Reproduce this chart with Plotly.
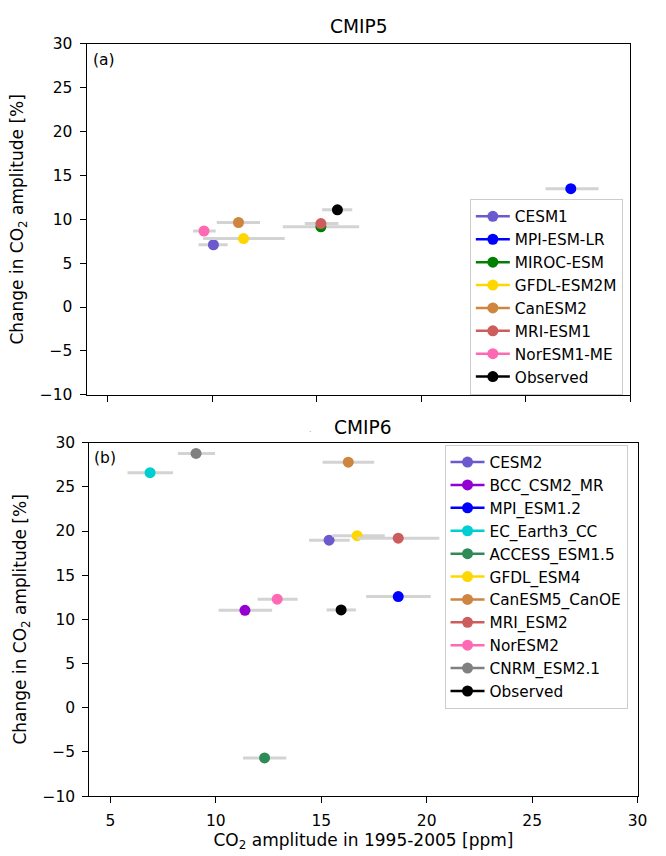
import plotly.graph_objects as go

# ---- data: panel (a) CMIP5 ----
cmip5_models = ["CESM1", "MPI-ESM-LR", "MIROC-ESM", "GFDL-ESM2M", "CanESM2", "MRI-ESM1", "NorESM1-ME", "Observed"]
cmip5_colors = ["#6A5ACD", "#0000FF", "#008000", "#FFD700", "#CD853F", "#CD5C5C", "#FF69B4", "#000000"]
cmip5_x = [10.06, 27.15, 15.2, 11.5, 11.26, 15.2, 9.61, 15.99]
cmip5_y = [7.1, 13.5, 9.15, 7.81, 9.64, 9.52, 8.67, 11.09]
cmip5_xlo = [9.35, 25.94, 13.38, 9.56, 10.22, 14.43, 9.09, 15.26]
cmip5_xhi = [10.74, 28.48, 17.03, 13.47, 12.29, 16.04, 10.17, 16.7]

# ---- data: panel (b) CMIP6 ----
cmip6_models = ["CESM2", "BCC_CSM2_MR", "MPI_ESM1.2", "EC_Earth3_CC", "ACCESS_ESM1.5", "GFDL_ESM4",
                "CanESM5_CanOE", "MRI_ESM2", "NorESM2", "CNRM_ESM2.1", "Observed"]
cmip6_colors = ["#6A5ACD", "#9400D3", "#0000FF", "#00CED1", "#2E8B57", "#FFD700",
                "#CD853F", "#CD5C5C", "#FF69B4", "#808080", "#000000"]
cmip6_x = [15.37, 11.38, 18.65, 6.88, 12.31, 16.7, 16.28, 18.65, 12.91, 9.06, 15.94]
cmip6_y = [18.97, 11.03, 12.58, 26.6, -5.68, 19.48, 27.79, 19.19, 12.29, 28.78, 11.07]
cmip6_xlo = [14.42, 10.13, 17.13, 5.81, 11.29, 15.52, 15.06, 16.7, 11.98, 8.2, 15.25]
cmip6_xhi = [16.35, 12.67, 20.19, 7.97, 13.34, 18.01, 17.51, 20.6, 13.88, 9.96, 16.64]

x_ticks = [5, 10, 15, 20, 25, 30]
y_ticks = [-10, -5, 0, 5, 10, 15, 20, 25, 30]

W, H = 666, 856
FONT = "DejaVu Sans"
FS_TICK = 15.5
FS_LEG = 15.3
FS_LAB = 17
FS_TITLE = 18.6

fig = go.Figure()


def add_panel(models, colors, xs, ys, xlo, xhi, xa, ya, legend):
    for m, c, x, y, lo, hi in zip(models, colors, xs, ys, xlo, xhi):
        fig.add_trace(go.Scatter(
            x=[x], y=[y], name=m, mode="lines+markers",
            xaxis=xa, yaxis=ya, legend=legend,
            marker=dict(color=c, size=11),
            line=dict(color=c, width=2.5),
            error_x=dict(type="data", symmetric=False, array=[hi - x], arrayminus=[x - lo],
                         color="#D3D3D3", thickness=3, width=0),
        ))


add_panel(cmip5_models, cmip5_colors, cmip5_x, cmip5_y, cmip5_xlo, cmip5_xhi, "x", "y", "legend")
add_panel(cmip6_models, cmip6_colors, cmip6_x, cmip6_y, cmip6_xlo, cmip6_xhi, "x2", "y2", "legend2")

# pixel geometry
top = dict(l=88, r=640, t=35.7, b=394)
bot = dict(l=90.7, r=647.3, t=443, b=804)


def xd(p):
    return [p["l"] / W, p["r"] / W]


def yd(p):
    return [(H - p["b"]) / H, (H - p["t"]) / H]


axis_common = dict(showline=True, linecolor="black", linewidth=1.2, mirror=True,
                   ticks="outside", ticklen=6, tickwidth=1.1, tickcolor="black",
                   showgrid=False, zeroline=False, ticklabelstandoff=4,
                   tickfont=dict(family=FONT, size=FS_TICK, color="black"))

ytitle = dict(text="Change in CO<sub>2</sub> amplitude [%]",
              font=dict(family=FONT, size=FS_LAB, color="black"), standoff=11)

legend_common = dict(xanchor="left", yanchor="top", itemwidth=34,
                     bgcolor="rgba(255,255,255,0.8)", bordercolor="#CCCCCC", borderwidth=1,
                     font=dict(family=FONT, size=FS_LEG, color="black"))

fig.update_layout(
    width=W, height=H,
    margin=dict(l=0, r=0, t=0, b=0),
    paper_bgcolor="white", plot_bgcolor="white",
    font=dict(family=FONT, size=FS_TICK, color="black"),
    xaxis=dict(domain=xd(top), range=[4, 30], tickvals=x_ticks, showticklabels=False, anchor="y", **axis_common),
    yaxis=dict(domain=yd(top), range=[-10, 30], tickvals=y_ticks, anchor="x", title=ytitle, **axis_common),
    xaxis2=dict(domain=xd(bot), range=[4, 30], tickvals=x_ticks, anchor="y2",
                title=dict(text="CO<sub>2</sub> amplitude in 1995-2005 [ppm]",
                           font=dict(family=FONT, size=FS_LAB, color="black"), standoff=4),
                **axis_common),
    yaxis2=dict(domain=yd(bot), range=[-10, 30], tickvals=y_ticks, anchor="x2", title=ytitle, **axis_common),
    legend=dict(x=477 / W, y=(H - 194) / H, **legend_common),
    legend2=dict(x=451.3 / W, y=(H - 445) / H, **legend_common),
    showlegend=True,
)

annots = [
    dict(text="CMIP5", x=(top["l"] + top["r"]) / 2 / W, y=(H - 18) / H, size=FS_TITLE),
    dict(text="CMIP6", x=(bot["l"] + bot["r"]) / 2 / W, y=(H - 427) / H, size=FS_TITLE),
    dict(text="(a)", x=(top["l"] + 18) / W, y=(H - 52) / H, size=FS_TICK),
    dict(text="(b)", x=(bot["l"] + 16) / W, y=(H - 459) / H, size=FS_TICK),
]
for a in annots:
    fig.add_annotation(xref="paper", yref="paper", x=a["x"], y=a["y"], text=a["text"],
                       showarrow=False, xanchor="center", yanchor="middle",
                       font=dict(family=FONT, size=a["size"], color="black"))
fig.add_annotation(xref="paper", yref="paper", x=315 / W, y=(H - 430) / H, text=".",
                   showarrow=False, xanchor="center", yanchor="middle",
                   font=dict(family=FONT, size=8, color="#AAAAAA"))

post = ("var d=document.getElementById('{plot_id}');"
        "d.style.position='fixed';d.style.left='0px';d.style.top='0px';"
        "document.body.style.margin='0';document.body.style.overflow='hidden';"
        "document.documentElement.style.overflow='hidden';")
fig.write_html("out.html", config={"displayModeBar": False}, post_script=post)
